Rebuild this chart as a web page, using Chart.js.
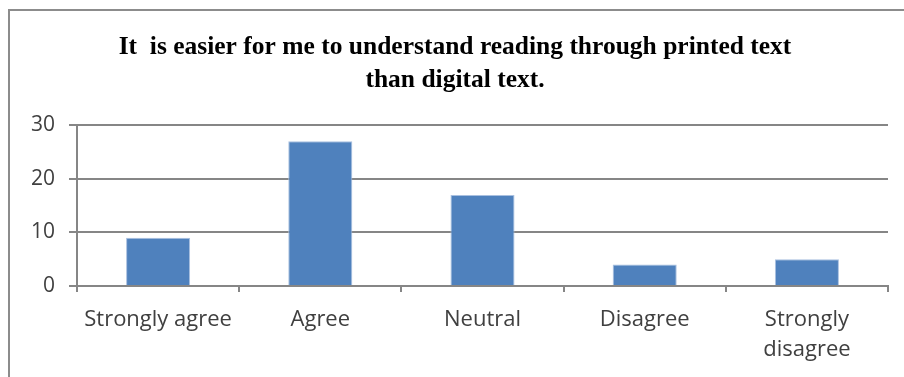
<!DOCTYPE html>
<html>
<head>
<meta charset="utf-8">
<script src="https://cdn.jsdelivr.net/npm/chart.js@4"></script>
<style>
  html, body { margin: 0; padding: 0; background: #fff; overflow: hidden; }
  #frame { position: absolute; left: 8px; top: 9px; width: 1000px; height: 500px; border: 2px solid #8c8c8c; }
  #wrap { position: absolute; left: 0; top: 0; width: 904px; height: 377px; }
</style>
</head>
<body>
<div id="frame"></div>
<div id="wrap"><canvas id="c"></canvas></div>
<script>
const categories = ['Strongly agree', 'Agree', 'Neutral', 'Disagree', ['Strongly', 'disagree']];
const counts = [9, 27, 17, 4, 5];
const titleLines = ['It  is easier for me to understand reading through printed text', 'than digital text.'];

const ctx = document.getElementById('c').getContext('2d');
new Chart(ctx, {
  type: 'bar',
  data: {
    labels: categories,
    datasets: [{
      data: counts,
      backgroundColor: '#4f81bd',
      borderColor: '#a9c0e0',
      borderWidth: 1,
      categoryPercentage: 1,
      barPercentage: 0.395
    }]
  },
  options: {
    responsive: true, maintainAspectRatio: false, animation: false,
    layout: { padding: { left: 22, right: 16, top: 0, bottom: 0 } },
    plugins: {
      legend: { display: false },
      tooltip: { enabled: false },
      title: {
        display: true,
        text: titleLines,
        color: '#000',
        font: { family: "'Liberation Serif', serif", size: 25.5, weight: 'bold', lineHeight: 1.3 },
        padding: { top: 31, bottom: 28 }
      }
    },
    scales: {
      y: {
        min: 0, max: 30,
        ticks: { stepSize: 10, color: '#404040', padding: 14, font: { family: "'Open Sans', sans-serif", size: 21 } },
        grid: { color: '#868686', lineWidth: 2, tickLength: 8 },
        border: { color: '#868686', width: 2 },
        afterFit: s => { s.width = 55; }
      },
      x: {
        ticks: { color: '#404040', padding: 12, font: { family: "'Open Sans', sans-serif", size: 22, lineHeight: 1.4 } },
        grid: { drawOnChartArea: false, color: '#868686', lineWidth: 2, tickLength: 6 },
        border: { color: '#868686', width: 2 },
        afterFit: s => { s.height = 91; }
      }
    }
  }
});
</script>
</body>
</html>
